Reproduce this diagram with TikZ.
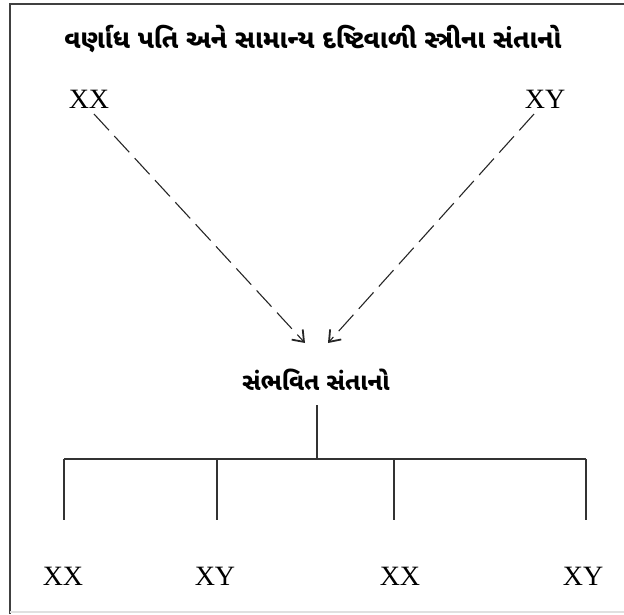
\documentclass[tikz,border=0pt]{standalone}
\usepackage{fontspec}
\setmainfont{Liberation Serif}
\newfontfamily\guj[Script=Gujarati]{Noto Sans Gujarati UI}
\usetikzlibrary{arrows.meta}
\tikzset{
  lbl/.style={font=\fontsize{28}{30}\selectfont, inner sep=0pt, anchor=center},
  gtxt/.style={font=\guj\bfseries\fontsize{24}{28}\selectfont, inner sep=0pt, anchor=center},
  ttxt/.style={font=\guj\bfseries\fontsize{26}{30}\selectfont, inner sep=0pt, anchor=center},
  dasharrow/.style={draw=black!85, line width=1.1pt, dash pattern=on 22pt off 8pt, -{Straight Barb[length=10pt,width=15pt,line width=1.8pt]}},
  link/.style={draw=black!80, line width=1.2pt},
  frame/.style={draw=black!75, line width=1.5pt}
}
\begin{document}
\begin{tikzpicture}[x=1pt,y=-1pt]
\useasboundingbox (0,0) rectangle (624,614);
\draw[frame] (10,614) -- (10,4) -- (624,4);
\draw[draw=black!12, line width=1.2pt] (10,612) -- (624,612);
\node[ttxt] (title) at (313,39) {વર્ણાધ પતિ અને સામાન્ય દષ્ટિવાળી સ્ત્રીના સંતાનો};
\node[lbl] (p1) at (89,99) {XX};
\node[lbl] (p2) at (545,99) {XY};
\coordinate (s1) at (94,114);
\coordinate (s2) at (534,114);
\coordinate (t1) at (305,343);
\coordinate (t2) at (328,343);
\draw[dasharrow] (s1) -- (t1);
\draw[dasharrow] (s2) -- (t2);
\node[gtxt] (kids) at (316,380) {સંભવિત સંતાનો};
\coordinate (v0) at (317,405);
\coordinate (hm) at (317,459);
\coordinate (h1) at (64,459);
\coordinate (h2) at (217,459);
\coordinate (h3) at (394,459);
\coordinate (h4) at (586,459);
\coordinate (d1) at (64,520);
\coordinate (d2) at (217,520);
\coordinate (d3) at (394,520);
\coordinate (d4) at (586,520);
\draw[link] (v0) -- (hm);
\draw[link] (h1) -- (h4);
\draw[link] (h1) -- (d1);
\draw[link] (h2) -- (d2);
\draw[link] (h3) -- (d3);
\draw[link] (h4) -- (d4);
\node[lbl] (c1) at (63,576) {XX};
\node[lbl] (c2) at (215,576) {XY};
\node[lbl] (c3) at (400,576) {XX};
\node[lbl] (c4) at (583,576) {XY};
\end{tikzpicture}
\end{document}
